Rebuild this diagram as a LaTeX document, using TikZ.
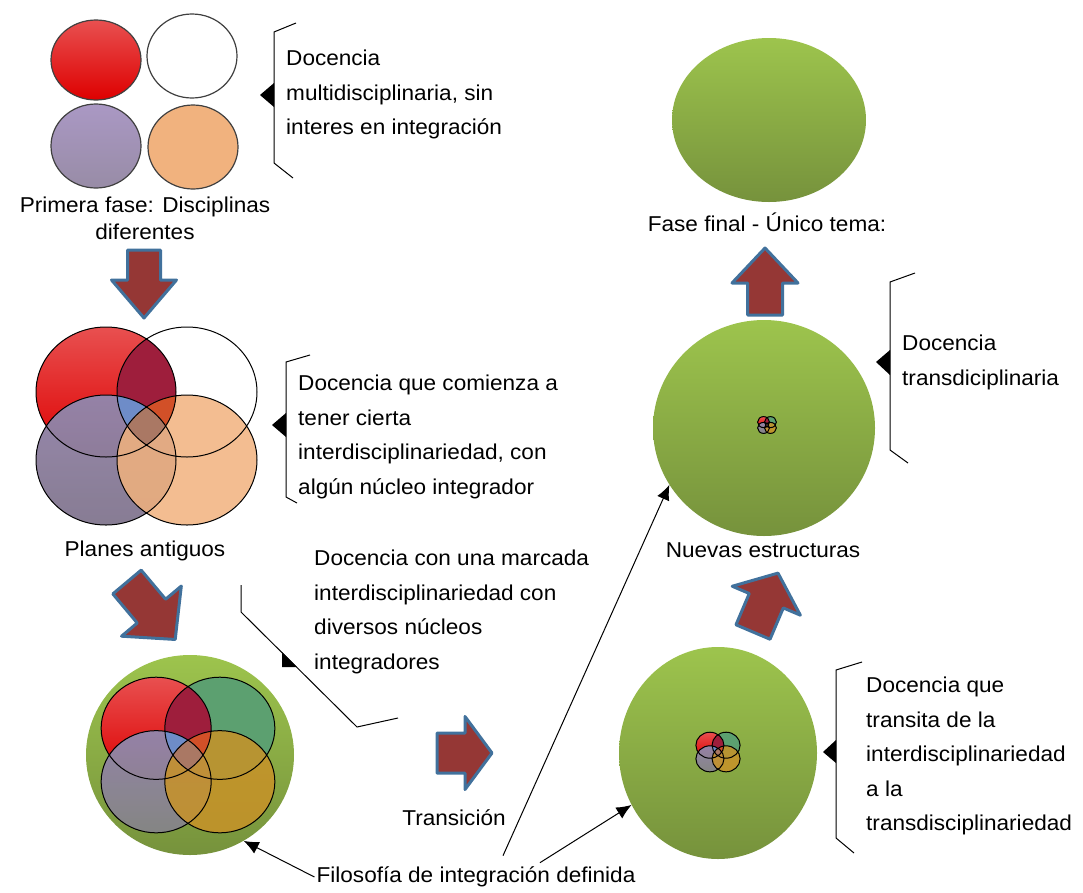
\documentclass[tikz,border=0pt]{standalone}
\usepackage{fontspec}
\setmainfont{Liberation Sans}[FakeStretch=1.05]
\usepackage{tikz}
\usetikzlibrary{positioning,shapes.geometric,arrows.meta}

\definecolor{arrowred}{RGB}{149,55,53}
\definecolor{arrowblue}{RGB}{65,113,156}
\definecolor{greentop}{RGB}{157,196,77}
\definecolor{greenbot}{RGB}{118,146,60}
\definecolor{discred}{RGB}{222,0,0}
\definecolor{discredlight}{RGB}{232,80,80}
\definecolor{discpurple}{RGB}{170,152,196}
\definecolor{discgray}{RGB}{152,140,166}
\definecolor{discorange}{RGB}{241,178,126}
\definecolor{discgreen}{RGB}{92,160,112}
\definecolor{discgold}{RGB}{200,146,40}
\definecolor{crimson}{RGB}{158,30,60}
\definecolor{coreblue}{RGB}{110,140,200}
\definecolor{coreorange}{RGB}{210,80,40}
\definecolor{corebrown}{RGB}{170,120,100}

% the four disciplines of a Venn pic
\newcommand{\vennTL}{(-40.5,-34) ellipse [x radius=70, y radius=65]}
\newcommand{\vennTR}{(40.5,-34) ellipse [x radius=70, y radius=65]}
\newcommand{\vennBL}{(-40.5,34) ellipse [x radius=70, y radius=65]}
\newcommand{\vennBR}{(40.5,34) ellipse [x radius=70, y radius=65]}

\tikzset{
  pics/venn/.style n args={4}{code={
    \fill[#1] \vennTL;
    \fill[#2] \vennTR;
    \begin{scope}
      \clip \vennTL; \fill[crimson] \vennTR;
    \end{scope}
    \fill[#3, fill opacity=.85] \vennBL;
    \fill[#4, fill opacity=.85] \vennBR;
    \begin{scope}
      \clip \vennTL; \clip \vennTR;
      \fill[coreblue] \vennBL;
      \fill[coreorange] \vennBR;
      \clip \vennBL; \fill[corebrown] \vennBR;
    \end{scope}
    \draw[vennline] \vennTL \vennTR \vennBL \vennBR;
  }},
  pics/fatarrow/.style n args={4}{code={
    \draw[arrowbody] (0,-#2/2) -- (#1-#4,-#2/2) -- (#1-#4,-#3/2) -- (#1,0)
      -- (#1-#4,#3/2) -- (#1-#4,#2/2) -- (0,#2/2) -- cycle;
  }},
}

\begin{document}
\begin{tikzpicture}[x=1pt,y=-1pt,
  disc/.style={ellipse,draw=black!75,line width=1.2pt,minimum width=90pt,minimum height=84pt,inner sep=0pt},
  ball/.style={ellipse,top color=greentop,bottom color=greenbot,inner sep=0pt},
  note/.style={font=\fontsize{21.5}{34.5}\selectfont,align=left,anchor=north west,inner sep=0pt},
  caption/.style={font=\fontsize{21.5}{27}\selectfont,align=center,inner sep=2pt},
  brace/.style={line width=1pt},
  vennline/.style={draw=black,line width=1pt},
  arrowbody/.style={fill=arrowred,draw=arrowblue,line width=3pt,line join=round},
  pointer/.style={line width=1pt,-{Latex[length=15pt,width=13pt]}},
  ]
\useasboundingbox (0,0) rectangle (1083,892);

% primera fase
\node[disc,top color=discredlight,bottom color=discred,minimum height=80pt] (red) at (96,60) {};
\node[disc,fill=white] (white) at (192,56) {};
\node[disc,top color=discpurple,bottom color=discgray] (purple) at (96,146) {};
\node[disc,fill=discorange] (orange) at (193,147) {};
\node[caption] (first) at (145,218) {Primera fase: Disciplinas\\diferentes};

\draw[brace] (296,23) -- (274,32) -- (274,163) -- (293,178);
\fill (274,83) -- (260,95) -- (274,107) -- cycle;
\node[note] (multi) at (286,50) {Docencia\\multidisciplinaria, sin\\interes en integración};

\pic[rotate=-90] at (144,250) {fatarrow={68}{33}{65}{38}};

% planes antiguos
\pic at (146.5,426) {venn={top color=discredlight,bottom color=discred}{fill=white}{top color=discpurple,bottom color=discgray}{fill=discorange}};
\node[caption] (old) at (145,551) {Planes antiguos};

\draw[brace] (310,355) -- (286,362) -- (286,497) -- (297,503);
\fill (286,413) -- (272,425) -- (286,437) -- cycle;
\node[note] (inter) at (298,375) {Docencia que comienza a\\tener cierta\\interdisciplinariedad, con\\algún núcleo integrador};

\pic[rotate=-50] at (127,582) {fatarrow={75}{37}{78}{37}};

% filosofia definida
\node[ball,minimum width=208pt,minimum height=200pt] (mixball) at (190,755) {};
\pic[scale=.786] at (188,755) {venn={top color=discredlight,bottom color=discred}{fill=discgreen}{top color=discpurple,bottom color=gray!80}{fill=discgold}};

\draw[brace] (241,585) -- (241,612) -- (357,727) -- (398,718);
\fill (282,652) -- (282,667) -- (297,667) -- cycle;
\node[note] (marked) at (314,550) {Docencia con una marcada\\interdisciplinariedad con\\diversos núcleos\\integradores};

\pic at (437,753) {fatarrow={55}{40}{73}{27}};
\node[caption] (trans) at (454,818) {Transición};

% transito
\node[ball,minimum width=198pt,minimum height=212pt] (transita) at (718,753) {};
\pic[scale=.2,line width=.6pt] at (718,752) {venn={top color=discredlight,bottom color=discred}{fill=discgreen}{top color=discpurple,bottom color=gray!80}{fill=discgold}};

\draw[brace] (862,662) -- (836,670) -- (836,838) -- (854,853);
\fill (836,740) -- (823,752) -- (836,763) -- cycle;
\node[note] (toward) at (866,677) {Docencia que\\transita de la\\interdisciplinariedad\\a la\\transdisciplinariedad};

\pic[rotate=67] at (753,632) {fatarrow={64}{37}{74}{30}};

% nuevas estructuras
\node[ball,minimum width=222pt,minimum height=216pt] (nuevas) at (764,428) {};
\pic[scale=.085] at (767,425) {venn={top color=discredlight,bottom color=discred}{fill=discgreen}{top color=discpurple,bottom color=gray!80}{fill=discgold}};
\node[caption] (newstruct) at (763,550) {Nuevas estructuras};

\draw[brace] (915,273) -- (890,282) -- (890,450) -- (908,463);
\fill (890,350) -- (876,362) -- (890,375) -- cycle;
\node[note] (transd) at (902,335) {Docencia\\transdiciplinaria};

\pic[rotate=90] at (765,315) {fatarrow={67}{35}{66}{35}};

% fase final
\node[ball,minimum width=194pt,minimum height=164pt] (final) at (769,120) {};
\node[caption] (finaltxt) at (767,222) {Fase final - Único tema:};

% filosofia
\node[caption] (filo) at (476,877) {Filosofía de integración definida};
\draw[pointer] (filo.west) -- (mixball.-58);
\draw[pointer] ([xshift=27pt,yshift=9pt]filo.north) -- (nuevas.211);
\draw[pointer] ([xshift=64pt,yshift=2pt]filo.north) -- (transita.211);

\end{tikzpicture}
\end{document}
